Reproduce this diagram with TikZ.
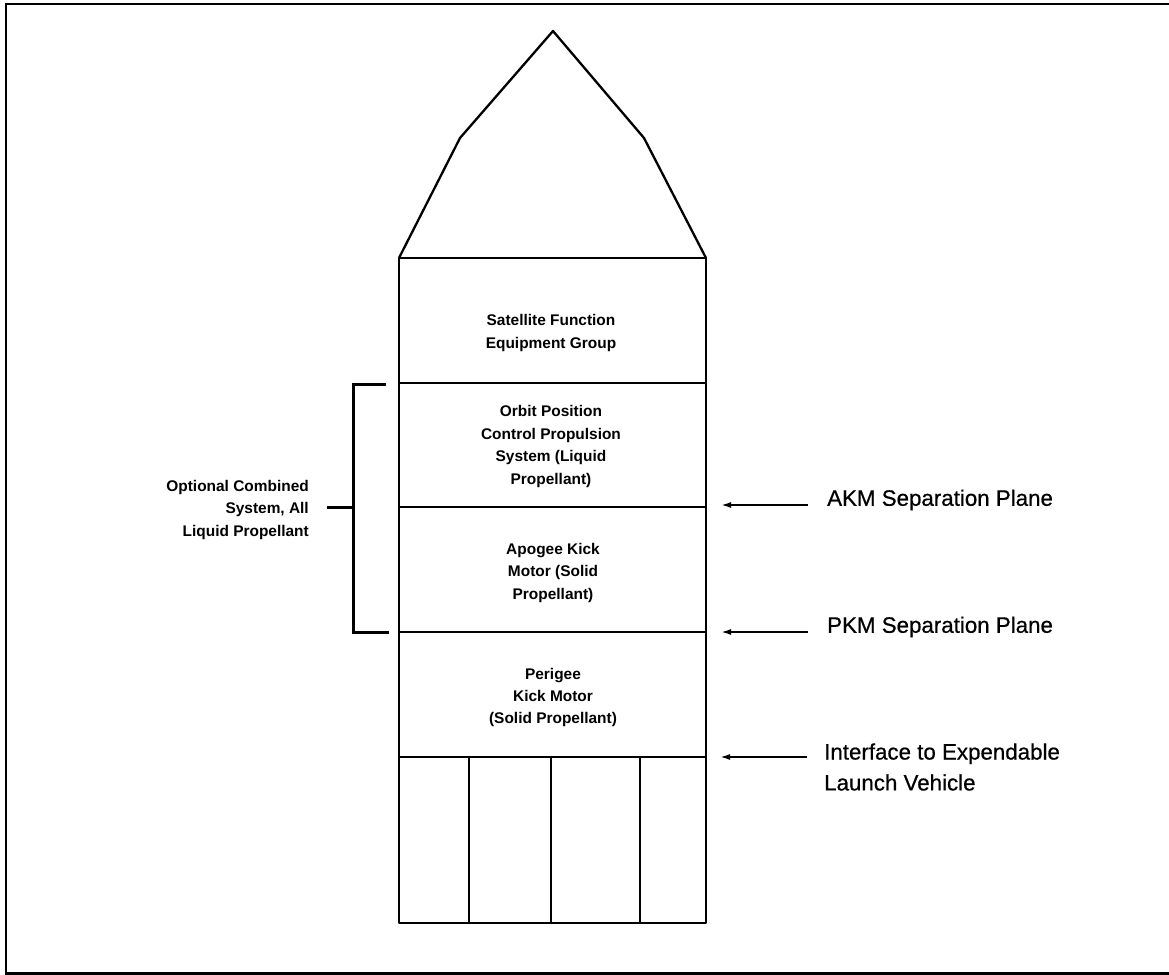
\documentclass[tikz,border=0pt]{standalone}
\usepackage{fontspec}
\setmainfont{Liberation Sans}
\newfontfamily\planefont[FakeBold=0.6]{Liberation Sans}
\usetikzlibrary{arrows.meta}
\tikzset{
  frameline/.style={line width=2.6bp, line cap=rect},
  bodyline/.style={line width=2.3bp, line join=round},
  bracketline/.style={line width=3bp},
  arrowline/.style={line width=1.8bp, -{Latex[length=10bp,width=6bp]}},
  stagetext/.style={align=center, inner sep=0pt, font=\bfseries\fontsize{15.5}{22.5}\selectfont},
  sidetext/.style={align=right, inner sep=0pt, anchor=east, font=\bfseries\fontsize{15.5}{22.5}\selectfont},
  planetext/.style={align=left, inner sep=0pt, anchor=west, font=\planefont\fontsize{22.4}{31}\selectfont},
}
\begin{document}
\begin{tikzpicture}[x=1bp,y=-1bp]
\useasboundingbox (0,0) rectangle (1169,975);

% outer frame (open on the right)
\draw[frameline] (1169,4) -- (6,4) -- (6,973.5) -- (1169,973.5);

% nose cone
\coordinate (noseL) at (399,258);
\coordinate (noseR) at (706,258);
\draw[bodyline] (noseL) -- (460,138) -- (553,31) -- (644,138) -- (noseR);

% stage boxes
\coordinate (bodyTL) at (399,258);
\coordinate (bodyBR) at (706,923);
\draw[bodyline] (bodyTL) rectangle (bodyBR);
\coordinate (p1L) at (399,383); \coordinate (p1R) at (706,383);
\coordinate (p2L) at (399,507); \coordinate (p2R) at (706,507);
\coordinate (p3L) at (399,632); \coordinate (p3R) at (706,632);
\coordinate (p4L) at (399,757); \coordinate (p4R) at (706,757);
\draw[bodyline] (p1L) -- (p1R);
\draw[bodyline] (p2L) -- (p2R);
\draw[bodyline] (p3L) -- (p3R);
\draw[bodyline] (p4L) -- (p4R);

% launch vehicle adapter cells
\foreach \xx in {469,551,640} {
  \draw[bodyline] (\xx,757) -- (\xx,923);
}

% stage labels
\node[stagetext] (sfeg) at (551,333) {Satellite Function\\Equipment Group};
\node[stagetext] (opcp) at (551,446.5) {Orbit Position\\Control Propulsion\\System (Liquid\\Propellant)};
\node[stagetext] (akmstage) at (553,573) {Apogee Kick\\Motor (Solid\\Propellant)};
\node[stagetext] (pkmstage) at (553,697.5) {Perigee\\Kick Motor\\(Solid Propellant)};

% bracket for the combined liquid system
\coordinate (brTop) at (386,384);
\coordinate (brBot) at (389,632);
\coordinate (brTopC) at (353,384);
\coordinate (brBotC) at (353,632);
\coordinate (brMid) at (353,507);
\coordinate (brTick) at (327,507);
\draw[bracketline] (brTop) -- (brTopC) -- (brBotC) -- (brBot);
\draw[bracketline] (brMid) -- (brTick);
\node[sidetext] (combined) at (309,510) {Optional Combined\\System, All\\Liquid Propellant};

% separation planes
\node[planetext] (akmlabel) at (827,500) {AKM Separation Plane};
\node[planetext] (pkmlabel) at (827,627) {PKM Separation Plane};
\node[planetext] (elvlabel) at (824,767) {Interface to Expendable\\Launch Vehicle};
\coordinate (akmtail) at (808,505); \coordinate (akmtip) at (721,505);
\coordinate (pkmtail) at (808,632); \coordinate (pkmtip) at (721,632);
\coordinate (elvtail) at (807,757); \coordinate (elvtip) at (720,757);
\draw[arrowline] (akmtail) -- (akmtip);
\draw[arrowline] (pkmtail) -- (pkmtip);
\draw[arrowline] (elvtail) -- (elvtip);
\end{tikzpicture}
\end{document}
